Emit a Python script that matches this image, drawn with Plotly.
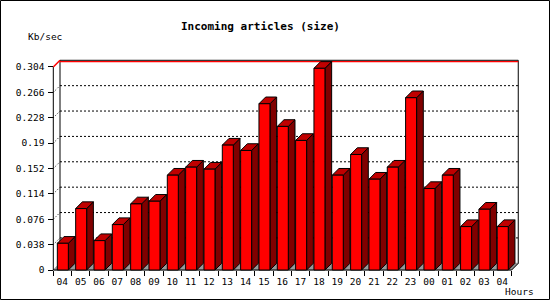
import plotly.graph_objects as go

# ---------------- data ----------------
hours = ["04", "05", "06", "07", "08", "09", "10", "11", "12", "13", "14", "15", "16",
         "17", "18", "19", "20", "21", "22", "23", "00", "01", "02", "03", "04"]
values = [0.040, 0.092, 0.044, 0.068, 0.099, 0.103, 0.142, 0.154, 0.151, 0.187, 0.179,
          0.249, 0.215, 0.194, 0.302, 0.142, 0.173, 0.136, 0.154, 0.258, 0.122, 0.142,
          0.065, 0.091, 0.065]
y_ticks = [0, 0.038, 0.076, 0.114, 0.152, 0.19, 0.228, 0.266, 0.304]
y_tick_text = ["0", "0.038", "0.076", "0.114", "0.152", "0.19", "0.228", "0.266", "0.304"]
title_text = "Incoming articles (size)"
y_unit = "Kb/sec"
x_unit = "Hours"

# ---------------- geometry (pixels) ----------------
W, H = 550, 300
ML, MR, MT, MB = 50, 26, 56, 24
PL, PR, PT, PB = ML, W - MR, MT, H - MB          # plot area in px
AX_X = 53.3      # front y-axis pixel x
AX_Y = 270.0     # front x-axis pixel y
SLOT = 18.33     # px per category
PXU = 667.8      # px per value unit
DEPTH = 6.7      # 3D depth in px

n = len(values)
DX = DEPTH / SLOT
DY = DEPTH / PXU
x_lo = -0.5 + (PL - AX_X) / SLOT
x_hi = -0.5 + (PR - AX_X) / SLOT
y_lo = (AX_Y - PB) / PXU
y_hi = (AX_Y - PT) / PXU
ymax = y_ticks[-1]
x_left, x_right = -0.5, n - 0.5

FRONT_L, FRONT_R = -0.28, 0.32

fig = go.Figure()


def poly(xs, ys, fill, line="black", width=1, dash=None):
    fig.add_trace(go.Scatter(
        x=xs, y=ys, mode="lines", fill="toself" if fill else "none",
        fillcolor=fill, line=dict(color=line, width=width, dash=dash),
        hoverinfo="skip", showlegend=False))


# floor
poly([x_left, x_right, x_right + DX, x_left + DX, x_left],
     [0, 0, DY, DY, 0], "#999999", line="#999999")

# back-wall grid lines (dotted) and left-wall diagonals
gx, gy, lx, ly = [], [], [], []
for t in y_ticks[1:-1]:
    gx += [x_left + DX, x_right + DX, None]
    gy += [t + DY, t + DY, None]
    lx += [x_left, x_left + DX, None]
    ly += [t, t + DY, None]
poly(gx, gy, None, width=1, dash="2px,2px")
poly(lx, ly, None, width=1, dash="1px,2px")

# walls / frame
poly([x_left + DX, x_left + DX], [DY, ymax + DY], None)                 # back-left edge
poly([x_right + DX, x_right + DX], [DY, ymax + DY], None)               # back-right edge
poly([x_left, x_left], [0, ymax], None)                                 # front y axis
poly([x_left, x_right], [0, 0], None)                                   # front x axis
poly([x_right, x_right + DX], [0, DY], None)                            # bottom-right diagonal
poly([x_left + DX, x_right + DX], [ymax + DY, ymax + DY], None)         # top edge (black)
poly([x_left + DX, x_right + DX], [ymax + DY - 1.3 / PXU, ymax + DY - 1.3 / PXU], None,
     line="#ff0000", width=1.3)                                          # red top line
poly([x_left, x_left + DX], [ymax, ymax + DY], None, line="#ff0000", width=1.5)

# bars
sx, sy, tx, ty, fx, fy = [], [], [], [], [], []
for i, v in enumerate(values):
    l, r = i + FRONT_L, i + FRONT_R
    fx += [l, r, r, l, l, None]
    fy += [0, 0, v, v, 0, None]
    sx += [r, r + DX, r + DX, r, r, None]
    sy += [0, DY, v + DY, v, 0, None]
    tx += [l, r, r + DX, l + DX, l, None]
    ty += [v, v, v + DY, v + DY, v, None]
poly(sx, sy, "#800000")
poly(tx, ty, "#c00000")
poly(fx, fy, "#ff0000")

mono = "DejaVu Sans Mono"

x_tick_vals = [i - 0.5 for i in range(n + 1)]
x_tick_text = hours + [""]

fig.update_layout(
    width=W, height=H, margin=dict(l=ML, r=MR, t=MT, b=MB),
    paper_bgcolor="white", plot_bgcolor="rgba(0,0,0,0)",
    showlegend=False,
    xaxis=dict(range=[x_lo, x_hi], anchor="free", position=(PB - AX_Y) / (PB - PT),
               tickvals=x_tick_vals, ticktext=x_tick_text, ticks="outside", ticklen=5,
               tickcolor="black", ticklabelshift=int(round(SLOT / 2)), ticklabelstandoff=-2,
               showgrid=False, zeroline=False, showline=False,
               tickfont=dict(family=mono, size=9.5, color="black"), fixedrange=True),
    yaxis=dict(range=[y_lo, y_hi], anchor="free", position=(AX_X - PL) / (PR - PL),
               tickvals=y_ticks, ticktext=y_tick_text, ticks="outside", ticklen=5,
               tickcolor="black", ticklabelstandoff=2, showgrid=False, zeroline=False,
               showline=False, tickfont=dict(family=mono, size=9.5, color="black"),
               fixedrange=True),
)


def px_to_paper(px, py):
    return (px - PL) / (PR - PL), (PB - py) / (PB - PT)


def note(text, px, py, size, bold=False):
    x, y = px_to_paper(px, py)
    fig.add_annotation(x=x, y=y, xref="paper", yref="paper", text=f"<b>{text}</b>" if bold else text,
                       showarrow=False, xanchor="center", yanchor="middle",
                       font=dict(family=mono, size=size, color="black"))


note(title_text, 260.5, 27, 11, bold=True)
note(y_unit, 45, 37, 9.5)
note(x_unit, 519.5, 291.5, 9.5)

# outer border
x0, y0 = px_to_paper(0.5, H - 0.5)
x1, y1 = px_to_paper(W - 0.5, 0.5)
fig.add_shape(type="rect", xref="paper", yref="paper", x0=x0, y0=y0, x1=x1, y1=y1,
              line=dict(color="black", width=1))

fig.write_html("out.html")
